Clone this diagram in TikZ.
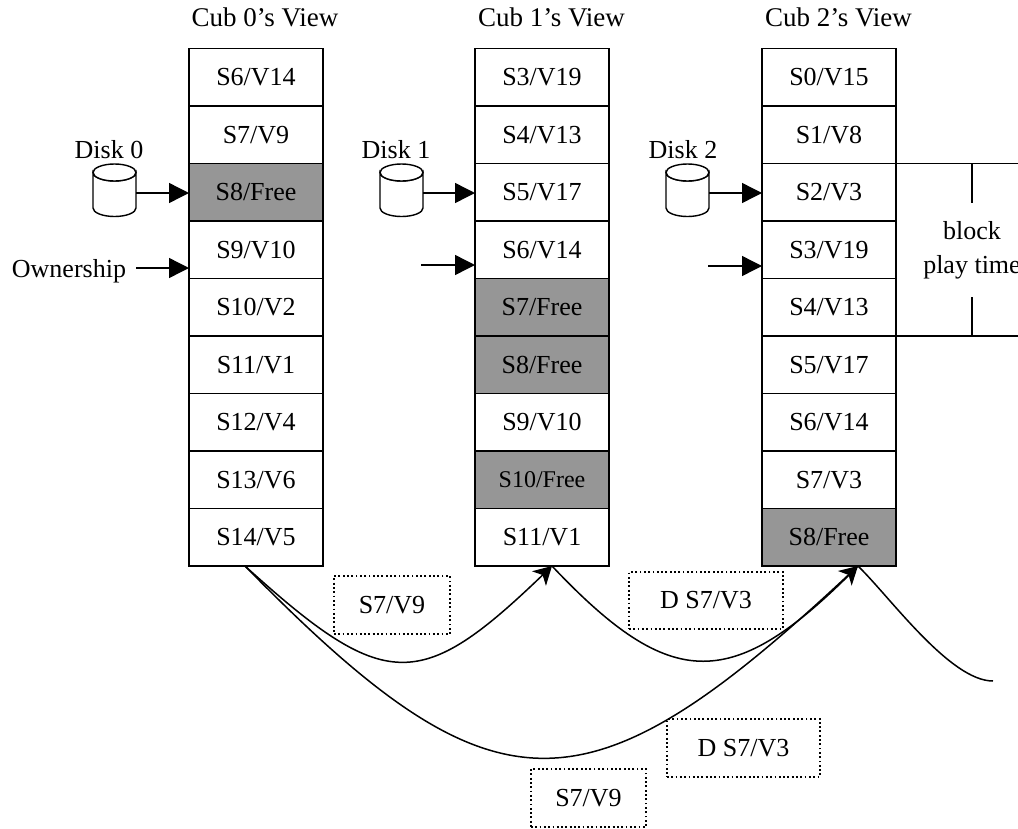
\documentclass[tikz,border=0pt]{standalone}
\usepackage{fontspec}
\setmainfont{Liberation Serif}
\usetikzlibrary{arrows.meta}
\definecolor{freegray}{gray}{0.59}
\tikzset{x=1pt,y=-1pt,
 cell/.style={draw=black,line width=1.8pt,outer sep=0pt,minimum width=134pt,minimum height=57.5pt,inner sep=0pt,font=\fontsize{26}{30}\selectfont},
 freecell/.style={cell,fill=freegray},
 lab/.style={inner sep=0pt,font=\fontsize{26}{30}\selectfont,align=center},
 titlelab/.style={inner sep=0pt,font=\fontsize{27}{30}\selectfont},
 dotbox/.style={draw=black,line width=1.5pt,dash pattern=on 1.8pt off 2.5pt,minimum width=116pt,minimum height=58pt,inner sep=0pt,font=\fontsize{26}{30}\selectfont},
 pointer/.style={draw=black,line width=1.4pt,-{Triangle[length=20pt,width=20pt]}},
 flow/.style={draw=black,line width=1.5pt},
 flowarr/.style={flow,-{Stealth[length=18pt,width=20pt,inset=5pt]}},
 rule/.style={draw=black,line width=1.4pt},
 disk/.style={draw=black,line width=1.4pt,fill=white}}
\newcommand{\diskat}[2]{\draw[disk] (#1,172.5) arc[start angle=180,end angle=360,x radius=21.5pt,y radius=8.5pt] -- +(0,35.5) arc[start angle=0,end angle=-180,x radius=21.5pt,y radius=8.5pt] -- cycle;
 \draw[disk] (#1+21.5,172.5) ellipse[x radius=21.5pt,y radius=8.5pt];
 \coordinate (#2) at (#1+43,193);}
\begin{document}
\begin{tikzpicture}
\useasboundingbox (0,0) rectangle (1018,828);
% column 0
\node[cell] (a0) at (256,77.25) {S6/V14};
\node[cell] (a1) at (256,134.75) {S7/V9};
\node[freecell] (a2) at (256,192.25) {S8/Free};
\node[cell] (a3) at (256,249.75) {S9/V10};
\node[cell] (a4) at (256,307.25) {S10/V2};
\node[cell] (a5) at (256,364.75) {S11/V1};
\node[cell] (a6) at (256,422.25) {S12/V4};
\node[cell] (a7) at (256,479.75) {S13/V6};
\node[cell] (a8) at (256,537.25) {S14/V5};
% column 1
\node[cell] (b0) at (542,77.25) {S3/V19};
\node[cell] (b1) at (542,134.75) {S4/V13};
\node[cell] (b2) at (542,192.25) {S5/V17};
\node[cell] (b3) at (542,249.75) {S6/V14};
\node[freecell] (b4) at (542,307.25) {S7/Free};
\node[freecell] (b5) at (542,364.75) {S8/Free};
\node[cell] (b6) at (542,422.25) {S9/V10};
\node[freecell,font=\fontsize{24}{28}\selectfont] (b7) at (542,479.75) {S10/Free};
\node[cell] (b8) at (542,537.25) {S11/V1};
% column 2
\node[cell] (c0) at (829,77.25) {S0/V15};
\node[cell] (c1) at (829,134.75) {S1/V8};
\node[cell] (c2) at (829,192.25) {S2/V3};
\node[cell] (c3) at (829,249.75) {S3/V19};
\node[cell] (c4) at (829,307.25) {S4/V13};
\node[cell] (c5) at (829,364.75) {S5/V17};
\node[cell] (c6) at (829,422.25) {S6/V14};
\node[cell] (c7) at (829,479.75) {S7/V3};
\node[freecell] (c8) at (829,537.25) {S8/Free};
% titles
\node[titlelab] (t0) at (265,17.5) {Cub 0’s View};
\node[titlelab] (t1) at (551.5,17.5) {Cub 1’s View};
\node[titlelab] (t2) at (838.5,17.5) {Cub 2’s View};
% disks
\diskat{93}{d0}
\diskat{380}{d1}
\diskat{666}{d2}
\node[lab] (dl0) at (109,150) {Disk 0};
\node[lab] (dl1) at (396,150) {Disk 1};
\node[lab] (dl2) at (683,150) {Disk 2};
\draw[pointer] (d0) -- (a2.west |- d0);
\draw[pointer] (d1) -- (b2.west |- d1);
\draw[pointer] (d2) -- (c2.west |- d2);
% ownership
\node[lab] (own) at (69,271) {Ownership};
\coordinate (o0) at (136,268);
\coordinate (o1) at (421,265);
\coordinate (o2) at (708,266);
\draw[pointer] (o0) -- (a3.west |- o0);
\draw[pointer] (o1) -- (b3.west |- o1);
\draw[pointer] (o2) -- (c3.west |- o2);
% block play time
\coordinate (r1) at (1018,163.5);
\coordinate (r2) at (1018,336);
\draw[rule] (c2.north east) -- (r1);
\draw[rule] (c4.south east) -- (r2);
\node[lab] (bp) at (972,250) {block\\[4pt]play time};
\coordinate (bt) at (972,163.5); \coordinate (bte) at (972,203);
\coordinate (bb) at (972,336); \coordinate (bbe) at (972,297);
\draw[rule] (bt) -- (bte);
\draw[rule] (bb) -- (bbe);
% dotted message boxes
\node[dotbox] (m1) at (392,605) {S7/V9};
\node[dotbox,minimum width=115pt] (m2) at (588.5,798) {S7/V9};
\node[dotbox,minimum width=154pt,minimum height=57pt] (m3) at (706,600.5) {D S7/V3};
\node[dotbox,minimum width=153pt] (m4) at (743.5,748) {D S7/V3};
% curves
\coordinate (p0) at (245,566);
\coordinate (p1) at (552,566);
\coordinate (p2) at (858,566);
\coordinate (pe) at (993,681);
\draw[flowarr] (p0) .. controls (385,693) and (420,693) .. (p1);
\draw[flowarr] (p0) .. controls (495,821) and (585,821) .. (p2);
\draw[flow] (p1) .. controls (672,693) and (733,693) .. (p2);
\draw[flow] (p2) .. controls (890,597) and (950,681) .. (pe);
\end{tikzpicture}
\end{document}
